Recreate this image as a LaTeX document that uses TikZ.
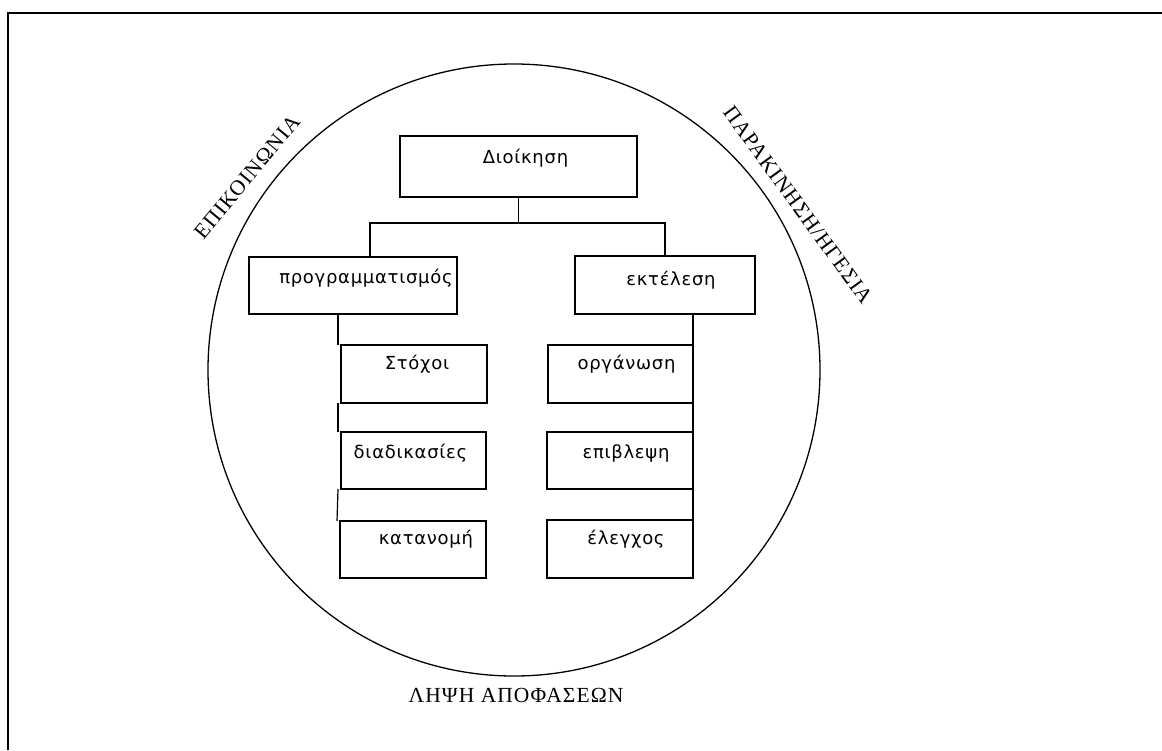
\documentclass[tikz,border=0pt]{standalone}
\usepackage{fontspec}
\setmainfont{Liberation Serif}
\newfontfamily\boxfont{DejaVu Sans}[LetterSpace=4]
\newfontfamily\capsfont{Liberation Serif}[LetterSpace=5]
\usetikzlibrary{calc}

\begin{document}
\begin{tikzpicture}[x=1pt,y=-1pt,
  every node/.style={inner sep=0pt, outer sep=0pt},
  box/.style={draw, line width=1.2pt, anchor=north west},
  boxtext/.style={font=\boxfont\fontsize{18}{21}\selectfont},
  caps/.style={font=\capsfont\fontsize{21.5}{24}\selectfont},
  link/.style={line width=1.2pt}]

  \useasboundingbox (0,0) rectangle (1162,750);
  \fill[white] (0,0) rectangle (1162,750);

  % page frame: only the top and left edges show
  \coordinate (frameL) at (8,750);
  \coordinate (frameC) at (8,13);
  \coordinate (frameR) at (1162,13);
  \draw[line width=2.6pt] (frameL) -- (frameC) -- (frameR);

  % surrounding ring
  \node[circle, draw, line width=1.3pt, minimum size=612pt] (ring) at (514,370) {};

  % boxes
  \node[box, minimum width=237pt, minimum height=61pt,
        label={[boxtext, name=tdioik, xshift=7pt, yshift=8pt]center:Διοίκηση}] (dioik) at (400,136) {};
  \node[box, minimum width=208pt, minimum height=57pt,
        label={[boxtext, name=tprog, xshift=13pt, yshift=7pt]center:προγραμματισμός}] (prog) at (249,257) {};
  \node[box, minimum width=180pt, minimum height=58pt,
        label={[boxtext, name=tekt, xshift=6pt, yshift=5pt]center:εκτέλεση}] (ekt) at (575,256) {};

  \node[box, minimum width=146pt, minimum height=58pt,
        label={[boxtext, name=tstox, xshift=3pt, yshift=10pt]center:Στόχοι}] (stox) at (341,345) {};
  \node[box, minimum width=145pt, minimum height=57pt,
        label={[boxtext, name=tdiad, xshift=-3pt, yshift=7pt]center:διαδικασίες}] (diad) at (341,432) {};
  \node[box, minimum width=146pt, minimum height=57pt,
        label={[boxtext, name=tkat, xshift=13pt, yshift=10pt]center:κατανομή}] (kat) at (340,521) {};

  \node[box, minimum width=145pt, minimum height=58pt,
        label={[boxtext, name=torg, xshift=6pt, yshift=10pt]center:οργάνωση}] (org) at (548,345) {};
  \node[box, minimum width=146pt, minimum height=57pt,
        label={[boxtext, name=tepi, xshift=6pt, yshift=7pt]center:επιβλεψη}] (epi) at (547,432) {};
  \node[box, minimum width=146pt, minimum height=58pt,
        label={[boxtext, name=tel, xshift=6pt, yshift=10pt]center:έλεγχος}] (el) at (547,520) {};

  % tree connectors
  \coordinate (bus) at ($(dioik.south)+(-3,26)$);
  \draw[link] (bus -| dioik.south) -- (dioik.south);
  \draw[link] ([xshift=17pt]prog.north) |- (bus) -| (ekt.north);

  % left column
  \draw[link] ([xshift=-3pt]stox.north west) -- ([xshift=-3pt]stox.north west |- prog.south);
  \draw[link] ([xshift=-3pt]stox.south west) -- ([xshift=-3pt]diad.north west);
  \draw[link] ([xshift=-3pt]diad.south west) -- ([xshift=-3pt]kat.north west);

  % right column
  \draw[link] (org.north east) -- (org.north east |- ekt.south);
  \draw[link] (org.south east) -- (epi.north east);
  \draw[link] (epi.south east) -- (el.north east);

  % labels around the ring
  \node[caps, rotate=50.4] (comm) at (247,177) {ΕΠΙΚΟΙΝΩΝΙΑ};
  \node[caps, rotate=-54] (motiv) at (798,205) {ΠΑΡΑΚΙΝΗΣΗ/ΗΓΕΣΙΑ};
  \node[caps] (decide) at (516,695) {ΛΗΨΗ ΑΠΟΦΑΣΕΩΝ};
\end{tikzpicture}
\end{document}
